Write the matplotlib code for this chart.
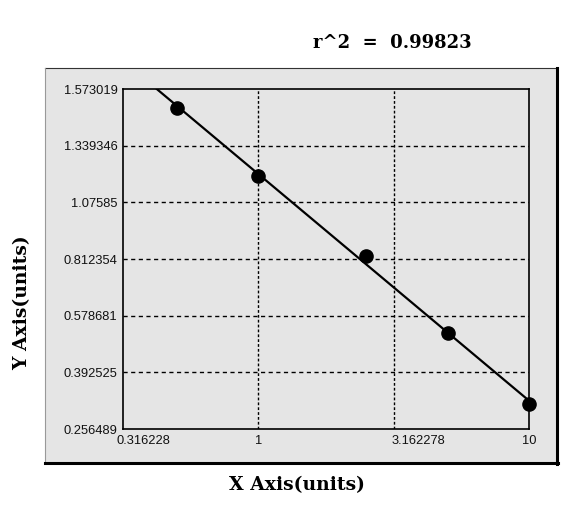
import numpy as np
import matplotlib.pyplot as plt
from matplotlib.patches import Rectangle
from matplotlib.lines import Line2D
from matplotlib.transforms import ScaledTranslation

# standard curve data
conc = np.array([0.5, 1.0, 2.5, 5.0, 10.0])
od = np.array([1.495, 1.198, 0.826, 0.522, 0.316])
r2 = 0.99823

x_ticks = [0.316228, 1, 3.162278, 10]
x_labels = ['0.316228', '1', '3.162278', '10']
y_ticks = [0.256489, 0.392525, 0.578681, 0.812354, 1.07585, 1.339346, 1.573019]
y_labels = ['0.256489', '0.392525', '0.578681', '0.812354', '1.07585', '1.339346', '1.573019']

# y axis: tick values sit evenly spaced (piecewise linear scale)
yv = np.array(y_ticks)
pos = np.arange(len(yv), dtype=float)


def _pw(v, a, b):
    v = np.atleast_1d(np.asarray(v, dtype=float))
    out = np.interp(v, a, b)
    lo, hi = v < a[0], v > a[-1]
    out[lo] = b[0] + (v[lo] - a[0]) * (b[1] - b[0]) / (a[1] - a[0])
    out[hi] = b[-1] + (v[hi] - a[-1]) * (b[-1] - b[-2]) / (a[-1] - a[-2])
    return out


def fwd(v):
    return _pw(v, yv, pos)


def inv(p):
    return _pw(p, pos, yv)


# straight-line fit in plot space
p = np.polyfit(np.log10(conc), fwd(od), 1)
xs = np.logspace(np.log10(x_ticks[0]), np.log10(x_ticks[-1]), 200)
ys = inv(np.polyval(p, np.log10(xs)))

bg = '#e5e5e5'
fig = plt.figure(figsize=(5.84, 5.21), dpi=100)

# outer panel
W, H = 584.0, 521.0
fig.patches.append(Rectangle((45 / W, 1 - 463 / H), 512 / W, 395 / H, transform=fig.transFigure,
                             facecolor=bg, edgecolor='none', zorder=-5))
fig.lines.append(Line2D([45 / W, 557 / W], [1 - 68 / H] * 2, transform=fig.transFigure, color='#333333', lw=0.8, zorder=-4))
fig.lines.append(Line2D([45 / W] * 2, [1 - 68 / H, 1 - 463 / H], transform=fig.transFigure, color='#999999', lw=0.8, zorder=-4))
fig.lines.append(Line2D([557 / W] * 2, [1 - 68 / H, 1 - 464 / H], transform=fig.transFigure, color='black', lw=2.2, zorder=-4))
fig.lines.append(Line2D([45 / W, 558 / W], [1 - 463 / H] * 2, transform=fig.transFigure, color='black', lw=2.2, zorder=-4))

ax = fig.add_axes([123 / W, 1 - 429 / H, 406 / W, 340 / H])
ax.set_facecolor(bg)
ax.set_xscale('log')
ax.set_yscale('function', functions=(fwd, inv))
ax.set_xlim(x_ticks[0], x_ticks[-1])
ax.set_ylim(y_ticks[0], y_ticks[-1])

ax.plot(xs, ys, color='black', lw=1.6, zorder=3)
ax.plot(conc, od, 'o', color='black', ms=9.5, zorder=4, clip_on=False)

ax.set_xticks(x_ticks)
ax.set_xticklabels(x_labels)
ax.set_yticks(y_ticks)
ax.set_yticklabels(y_labels)
ax.xaxis.set_minor_locator(plt.NullLocator())
ax.yaxis.set_minor_locator(plt.NullLocator())
ax.tick_params(length=0, labelsize=9.3, pad=4)
for lab in ax.get_xticklabels() + ax.get_yticklabels():
    lab.set_fontfamily('Liberation Sans')
    lab.set_color('#111111')
xl = ax.get_xticklabels()
for i, dx in [(0, -6), (2, -2)]:
    xl[i].set_horizontalalignment('left')
    xl[i].set_transform(xl[i].get_transform() + ScaledTranslation(dx / 100, 0, fig.dpi_scale_trans))

for yt in y_ticks[1:-1]:
    ax.axhline(yt, color='black', lw=1, ls=(0, (3, 2.5)), zorder=1)
for xt in x_ticks[1:-1]:
    ax.axvline(xt, color='black', lw=1, ls=(0, (2, 1.5)), zorder=1)
for s in ax.spines.values():
    s.set_linewidth(1.2)

fig.text(392 / W, 1 - 43 / H, f'r^2  =  {r2}', ha='center', va='center',
         fontsize=13, fontweight='bold', family='DejaVu Serif')
fig.text(297 / W, 1 - 485 / H, 'X Axis(units)', ha='center', va='center',
         fontsize=13.5, fontweight='bold', family='DejaVu Serif')
fig.text(22 / W, 1 - 303 / H, 'Y Axis(units)', ha='center', va='center', rotation=90,
         fontsize=13.5, fontweight='bold', family='DejaVu Serif')

fig.savefig('out.png', dpi=100)
